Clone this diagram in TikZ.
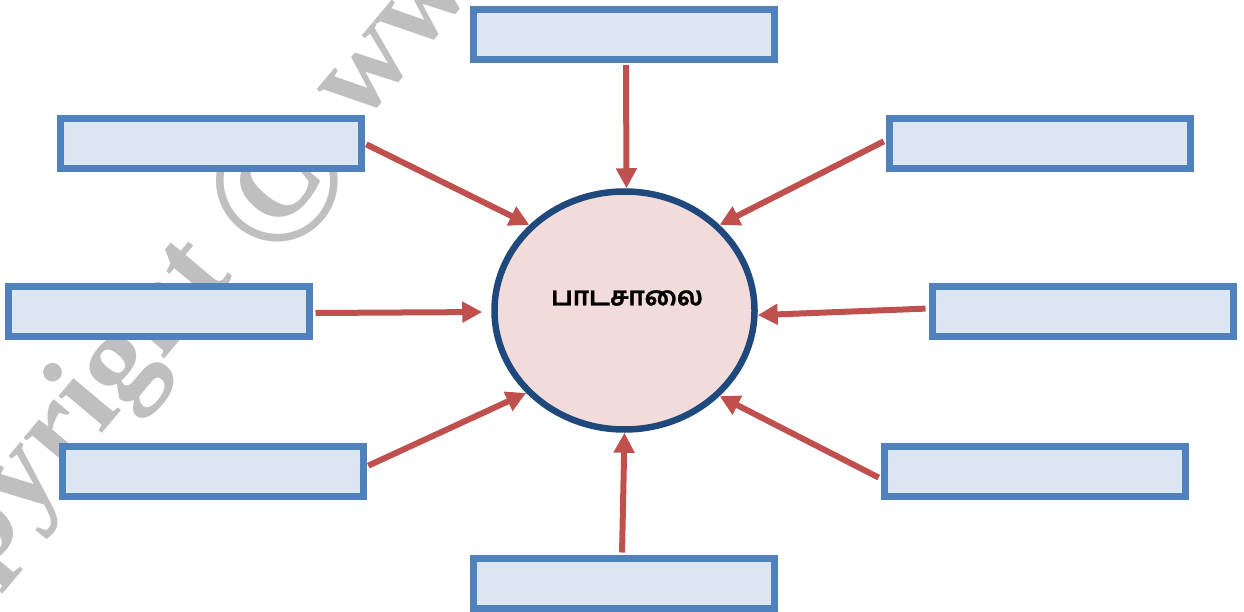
\documentclass[tikz,border=0pt]{standalone}
\usepackage{fontspec}
\setmainfont{Liberation Serif}
\newfontfamily\tamilfont[Script=Tamil, BoldFeatures={FakeBold=1.2}]{Hind Madurai}
\usetikzlibrary{arrows.meta,shapes.geometric}
\definecolor{boxfill}{RGB}{220,230,242}
\definecolor{boxline}{RGB}{79,129,189}
\definecolor{arrowred}{RGB}{192,80,77}
\definecolor{ellfill}{RGB}{242,220,219}
\definecolor{ellline}{RGB}{31,73,125}
\definecolor{wmark}{RGB}{191,191,191}
\tikzset{
  blank/.style={draw=boxline, fill=boxfill, line width=7pt, minimum width=301pt, minimum height=50pt, inner sep=0pt},
  conn/.style={draw=arrowred, line width=6pt, -{Triangle[length=20pt,width=20pt]}, shorten <=2pt},
  wm/.style={text=wmark, rotate=50, inner sep=0pt, font=\bfseries\fontsize{124}{124}\selectfont},
}
\begin{document}
\begin{tikzpicture}[x=1pt,y=-1pt]
\useasboundingbox (0,0) rectangle (1244,612);
\clip (0,0) rectangle (1244,612);
% watermark
\node[wm, anchor=base east] (wm1) at (234,277) {Copyright};
\node[wm, anchor=center, font=\bfseries\fontsize{180}{180}\selectfont] (wm2) at (277,182) {©};
\node[wm, anchor=base west] (wm3) at (360,127) {www};
% boxes
\node[blank] (t) at (624,34.5) {};
\node[blank] (tl) at (210.5,143.5) {};
\node[blank] (tr) at (1039.5,143.5) {};
\node[blank] (ml) at (158.5,311.5) {};
\node[blank] (mr) at (1082.5,311.5) {};
\node[blank] (bl) at (212.5,471.5) {};
\node[blank] (br) at (1034.5,471.5) {};
\node[blank] (b) at (624,583) {};
\node[ellipse, draw=ellline, fill=ellfill, line width=6.5pt, minimum width=260pt, minimum height=238pt, inner sep=0pt] (e) at (624.5,310.5) {};
\node[font=\tamilfont\bfseries\fontsize{26}{26}\selectfont] (lbl) at (627,298) {பாடசாலை};
\draw[conn] ([xshift=2pt]t.south) -- ([xshift=2pt]e.north);
\draw[conn] (tl.east) -- (e.138);
\draw[conn] ([yshift=3pt]tr.west) -- (e.42);
\draw[conn, shorten <=3pt, shorten >=9pt] ([yshift=-1.5pt]ml.east) -- ([yshift=-1.5pt]e.west);
\draw[conn, shorten <=3pt] ([yshift=3pt]mr.west) -- (e.-2);
\draw[conn] ([yshift=5pt]bl.east) -- (e.220);
\draw[conn] ([yshift=-7pt]br.west) -- (e.-42);
\draw[conn] ([xshift=-2pt]b.north) -- (e.south);
\end{tikzpicture}
\end{document}
